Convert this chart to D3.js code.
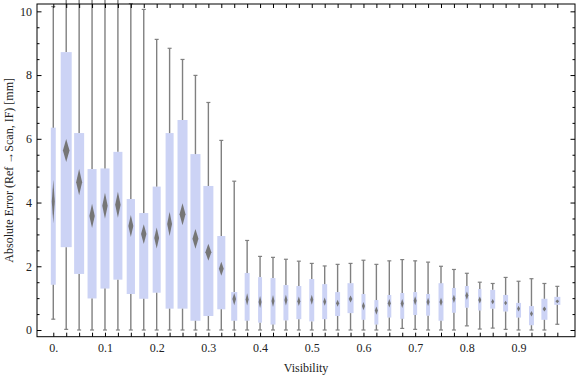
<!DOCTYPE html>
<html>
<head>
<meta charset="utf-8">
<script src="https://cdn.jsdelivr.net/npm/d3@7"></script>
<style>
    body { margin: 0; background: #fff; }
    text { font-family: "Liberation Serif", "Times New Roman", serif; }
</style>
</head>
<body>
<div id="chart"></div>
<script>

// visibility bins (one box each)
let visibility = [0.000, 0.025, 0.050, 0.075, 0.100, 0.125, 0.150, 0.175, 0.200, 0.225,
                  0.250, 0.275, 0.300, 0.325, 0.350, 0.375, 0.400, 0.425, 0.450, 0.475,
                  0.500, 0.525, 0.550, 0.575, 0.600, 0.625, 0.650, 0.675, 0.700, 0.725,
                  0.750, 0.775, 0.800, 0.825, 0.850, 0.875, 0.900, 0.925, 0.950, 0.975];

// whisker ends
let errMin = [0.34, 0.02, 0.00, 0.00, 0.00, 0.00, 0.00, 0.00, 0.00, 0.00,
              0.00, 0.00, 0.00, 0.00, 0.00, 0.00, 0.00, 0.00, 0.00, 0.00,
              0.00, 0.00, 0.00, 0.00, 0.00, 0.00, 0.00, 0.05, 0.02, 0.00,
              0.00, 0.00, 0.13, 0.03, 0.06, 0.02, 0.00, 0.00, 0.00, 0.18];
let errMax = [10.15, 11.5, 11.5, 11.5, 11.5, 11.5, 10.24, 10.06, 9.12, 8.84,
              8.49, 7.99, 7.14, 5.95, 4.67, 2.81, 2.31, 2.28, 2.22, 2.16,
              2.09, 2.01, 2.06, 2.09, 2.19, 2.06, 2.17, 2.21, 2.17, 2.13,
              2.00, 1.90, 1.78, 1.50, 1.46, 1.65, 1.53, 1.61, 1.46, 1.37];

// quartiles
let errQ1 = [1.42, 2.60, 1.76, 0.99, 1.30, 1.58, 1.13, 0.98, 1.17, 0.67,
             0.67, 0.29, 0.44, 0.65, 0.29, 0.29, 0.23, 0.17, 0.30, 0.34,
             0.27, 0.34, 0.44, 0.53, 0.32, 0.17, 0.39, 0.35, 0.47, 0.45,
             0.29, 0.54, 0.70, 0.61, 0.67, 0.58, 0.39, 0.15, 0.32, 0.79];
let errQ3 = [6.35, 8.72, 6.18, 5.05, 5.07, 5.59, 4.11, 3.67, 4.50, 6.18,
             6.59, 5.52, 4.52, 2.95, 1.19, 1.79, 1.66, 1.63, 1.41, 1.38,
             1.60, 1.44, 1.19, 1.47, 1.13, 0.94, 1.10, 1.16, 1.19, 1.13,
             1.47, 1.32, 1.38, 1.29, 1.26, 1.10, 0.85, 0.75, 0.98, 1.04];

// median (diamond centre) and its half height
let errMed = [4.03, 5.63, 4.64, 3.58, 3.90, 3.93, 3.26, 3.01, 2.89, 3.33,
              3.63, 2.86, 2.44, 1.92, 0.97, 0.96, 0.88, 0.91, 0.94, 0.90,
              0.95, 0.89, 0.84, 0.97, 0.75, 0.61, 0.84, 0.83, 0.92, 0.88,
              0.88, 0.98, 1.08, 0.94, 0.89, 0.85, 0.67, 0.51, 0.66, 0.90];
let medCI = [0.675, 0.36, 0.41, 0.38, 0.41, 0.41, 0.345, 0.31, 0.33, 0.38,
             0.345, 0.31, 0.27, 0.22, 0.19, 0.19, 0.19, 0.19, 0.17, 0.15,
             0.16, 0.13, 0.11, 0.11, 0.13, 0.13, 0.13, 0.14, 0.14, 0.13,
             0.13, 0.13, 0.13, 0.11, 0.08, 0.07, 0.09, 0.09, 0.08, 0.06];

// relative share of samples per bin (sets box width)
let binShare = [0.45, 1.00, 0.91, 0.82, 0.82, 0.82, 0.75, 0.82, 0.73, 0.73,
                0.91, 0.91, 0.91, 0.73, 0.55, 0.45, 0.36, 0.45, 0.45, 0.45,
                0.45, 0.45, 0.45, 0.55, 0.36, 0.36, 0.36, 0.36, 0.36, 0.36,
                0.45, 0.36, 0.36, 0.30, 0.45, 0.45, 0.45, 0.45, 0.55, 0.55];

let xLabels = ["0.", "0.1", "0.2", "0.3", "0.4", "0.5", "0.6", "0.7", "0.8", "0.9"];
let yLabels = [0, 2, 4, 6, 8, 10];

let data = visibility.map((v, i) => ({
    vis: v, lo: errMin[i], q1: errQ1[i], q3: errQ3[i], hi: errMax[i],
    med: errMed[i], ci: medCI[i], share: binShare[i]
}));

let w = 576, h = 377;
let mLeft = 37, mRight = 575, mTop = 4, mBottom = 336.7;

let x = d3.scaleLinear().domain([-0.0315, 1.0092]).range([mLeft, mRight]);
let y = d3.scaleLinear().domain([-0.21, 10.23]).range([mBottom, mTop]);
let bw = d3.scaleLinear().domain([0, 1]).range([0, 11]);

let svg = d3.select('#chart').append('svg')
    .attr('width', w)
    .attr('height', h);

svg.append('defs').append('filter')
    .attr('id', 'soft')
    .attr('x', '-50%').attr('y', '-50%').attr('width', '200%').attr('height', '200%')
    .append('feGaussianBlur')
    .attr('stdDeviation', 0.7);

// boxes
let boxes = svg.append('g').selectAll('g')
    .data(data)
    .enter()
    .append('g');

boxes.append('rect')
    .attr('x', d => x(d.vis) - bw(d.share) / 2)
    .attr('width', d => bw(d.share))
    .attr('y', d => y(d.q3))
    .attr('height', d => y(d.q1) - y(d.q3))
    .attr('fill', '#ccd3f5');

// whiskers
boxes.append('line')
    .attr('x1', d => x(d.vis)).attr('x2', d => x(d.vis))
    .attr('y1', d => y(d.hi)).attr('y2', d => y(d.q3))
    .attr('stroke', '#808080').attr('stroke-width', 1.4);
boxes.append('line')
    .attr('x1', d => x(d.vis)).attr('x2', d => x(d.vis))
    .attr('y1', d => y(d.q1)).attr('y2', d => y(d.lo))
    .attr('stroke', '#808080').attr('stroke-width', 1.4);
boxes.append('line')
    .attr('x1', d => x(d.vis) - 2).attr('x2', d => x(d.vis) + 2)
    .attr('y1', d => y(d.hi)).attr('y2', d => y(d.hi))
    .attr('stroke', '#808080').attr('stroke-width', 1.2);
boxes.append('line')
    .attr('x1', d => x(d.vis) - 2).attr('x2', d => x(d.vis) + 2)
    .attr('y1', d => y(d.lo)).attr('y2', d => y(d.lo))
    .attr('stroke', '#808080').attr('stroke-width', 1.2);

// median diamonds
boxes.append('polygon')
    .attr('points', d => {
        let cx = x(d.vis), hw = Math.max(1.5, bw(d.share) * 0.3);
        return [[cx, y(d.med + d.ci)], [cx + hw, y(d.med)], [cx, y(d.med - d.ci)], [cx - hw, y(d.med)]]
            .map(p => p.join(',')).join(' ');
    })
    .attr('fill', '#767676')
    .attr('filter', 'url(#soft)');

// frame
svg.append('rect')
    .attr('x', mLeft).attr('y', mTop)
    .attr('width', mRight - mLeft).attr('height', mBottom - mTop)
    .attr('fill', 'none').attr('stroke', '#000').attr('stroke-width', 1);

// x ticks, bottom with labels and top without
let xAxis = d3.axisBottom(x)
    .tickValues(visibility)
    .tickSize(-4)
    .tickPadding(6.3)
    .tickFormat((d, i) => i % 4 == 0 ? xLabels[i / 4] : '');
svg.append('g')
    .attr('transform', `translate(0,${mBottom})`)
    .call(xAxis)
    .call(g => g.select('.domain').remove());
svg.append('g')
    .attr('transform', `translate(0,${mTop})`)
    .call(d3.axisTop(x).tickValues(visibility).tickSize(-4).tickFormat(''))
    .call(g => g.select('.domain').remove());

// y ticks, major at labels, minor every 0.5
let yMinor = d3.range(0, 10.01, 0.5).filter(v => v % 2 != 0);
svg.append('g')
    .attr('transform', `translate(${mLeft},0)`)
    .call(d3.axisLeft(y).tickValues(yLabels).tickSize(-4.5).tickPadding(5))
    .call(g => g.select('.domain').remove());
svg.append('g')
    .attr('transform', `translate(${mLeft},0)`)
    .call(d3.axisLeft(y).tickValues(yMinor).tickSize(-2.5).tickFormat(''))
    .call(g => g.select('.domain').remove());
svg.append('g')
    .attr('transform', `translate(${mRight},0)`)
    .call(d3.axisRight(y).tickValues(yLabels).tickSize(-4.5).tickFormat(''))
    .call(g => g.select('.domain').remove());
svg.append('g')
    .attr('transform', `translate(${mRight},0)`)
    .call(d3.axisRight(y).tickValues(yMinor).tickSize(-2.5).tickFormat(''))
    .call(g => g.select('.domain').remove());

svg.selectAll('.tick line').attr('stroke', '#000').attr('stroke-width', 1);
svg.selectAll('.tick text')
    .attr('fill', '#222')
    .style('font-family', '"Liberation Serif", "Times New Roman", serif')
    .style('font-size', '12px');

// axis labels
svg.append('text')
    .attr('x', (mLeft + mRight) / 2)
    .attr('y', 372)
    .attr('text-anchor', 'middle')
    .style('font-size', '12px')
    .attr('fill', '#222')
    .text('Visibility');

svg.append('text')
    .attr('transform', `translate(13,${(mTop + mBottom) / 2}) rotate(-90)`)
    .attr('text-anchor', 'middle')
    .style('font-size', '12px')
    .attr('fill', '#222')
    .text('Absolute Error (Ref \u2192Scan, IF) [mm]');

</script>
</body>
</html>
